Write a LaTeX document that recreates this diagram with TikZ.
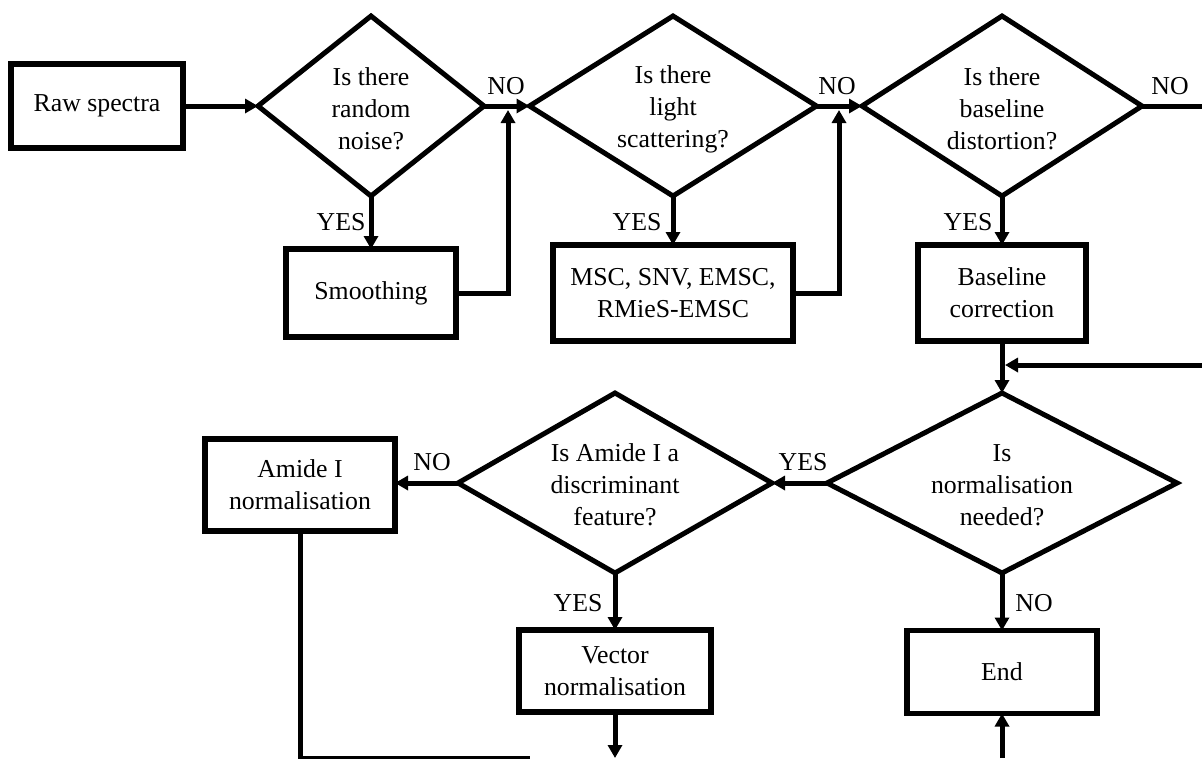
\documentclass[tikz,border=0pt]{standalone}
\usepackage{fontspec}
\setmainfont{Liberation Serif}
\usetikzlibrary{shapes.geometric,arrows.meta}
\newcommand\figfont{\fontsize{25.8}{32}\selectfont}
\begin{document}
\begin{tikzpicture}[x=1pt,y=-1pt,
  box/.style={draw, line width=5.5pt, rectangle, inner sep=0pt, outer sep=0pt, align=center, font=\figfont},
  dia/.style={draw, line width=5pt, diamond, inner sep=0pt, outer sep=0pt},
  txt/.style={font=\figfont, inner sep=0pt, align=center},
  conn/.style={line width=5pt},
  arr/.style={conn, -{Triangle[length=13pt,width=14pt]}}]
\useasboundingbox[fill=white] (0,0) rectangle (1202,758);

% row 1
\node[box, minimum width=172pt, minimum height=84pt] (raw) at (97,106) {Raw spectra};
\node[dia, minimum width=226pt, minimum height=180pt] (d1) at (371,106) {};
\node[txt] (t1) at ([yshift=-3pt]d1.center) {Is there\\random\\noise?};
\node[dia, minimum width=287pt, minimum height=180pt] (d2) at (673,106) {};
\node[txt] (t2) at ([yshift=-3pt]d2.center) {Is there\\light\\scattering?};
\node[dia, minimum width=280pt, minimum height=180pt] (d3) at (1002,106) {};
\node[txt] (t3) at ([yshift=-3pt]d3.center) {Is there\\baseline\\distortion?};

% row 2
\node[box, minimum width=170pt, minimum height=88pt] (smooth) at (371,293) {Smoothing};
\node[box, minimum width=240pt, minimum height=96pt] (msc) at (673,293) {MSC, SNV, EMSC,\\RMieS-EMSC};
\node[box, minimum width=168pt, minimum height=96pt] (base) at (1002,293) {Baseline\\correction};

% row 3
\node[dia, minimum width=350pt, minimum height=180pt] (d4) at (1002,483) {};
\node[txt] (t4) at ([yshift=-2pt]d4.center) {Is\\normalisation\\needed?};
\node[dia, minimum width=314pt, minimum height=180pt] (d5) at (615,483) {};
\node[txt] (t5) at ([yshift=-2pt]d5.center) {Is Amide I a\\discriminant\\feature?};
\node[box, minimum width=190pt, minimum height=92pt] (amide) at (300,485) {Amide I\\normalisation};

% row 4
\node[box, minimum width=192pt, minimum height=82pt] (vec) at (615,671) {Vector\\normalisation};
\node[box, minimum width=190pt, minimum height=83pt] (end) at (1002,672) {End};

% labels
\node[txt] (no1) at (506,86) {NO};
\node[txt] (no2) at (837,86) {NO};
\node[txt] (no3) at (1170,86) {NO};
\node[txt] (yes1) at (341,222) {YES};
\node[txt] (yes2) at (637,222) {YES};
\node[txt] (yes3) at (968,222) {YES};
\node[txt] (yes4) at (803,462) {YES};
\node[txt] (no4) at (432,462) {NO};
\node[txt] (yes5) at (578,603) {YES};
\node[txt] (no5) at (1034,603) {NO};

% helper coordinates
\coordinate (ret1) at (508,110);
\coordinate (ret2) at (839,110);
\coordinate (loopout) at (1202,106);
\coordinate (loopin) at (1202,365);
\coordinate (join) at (1005,365);
\coordinate (vecout) at (615,758);
\coordinate (endin) at (1002,758);
\coordinate (amb) at (300,758);
\coordinate (ambr) at (530,758);

% connectors
\draw[arr] (raw.east) -- (d1.west);
\draw[arr] (d1.east) -- (d2.west);
\draw[arr] (d2.east) -- (d3.west);
\draw[conn] (d3.east) -- (loopout);
\draw[arr] (d1.south) -- (smooth.north);
\draw[arr] (d2.south) -- (msc.north);
\draw[arr] (d3.south) -- (base.north);
\draw[arr] (smooth.east) -| (ret1);
\draw[arr] (msc.east) -| (ret2);
\draw[arr] (base.south) -- (d4.north);
\draw[arr] (loopin) -- (join);
\draw[arr] (d4.west) -- (d5.east);
\draw[arr] (d5.west) -- (amide.east |- d5.west);
\draw[arr] (d5.south) -- (vec.north);
\draw[arr] (d4.south) -- (end.north);
\draw[arr] (vec.south) -- (vecout);
\draw[arr] (endin) -- (end.south);
\draw[conn] (amide.south) -- (amb) -- (ambr);
\end{tikzpicture}
\end{document}
